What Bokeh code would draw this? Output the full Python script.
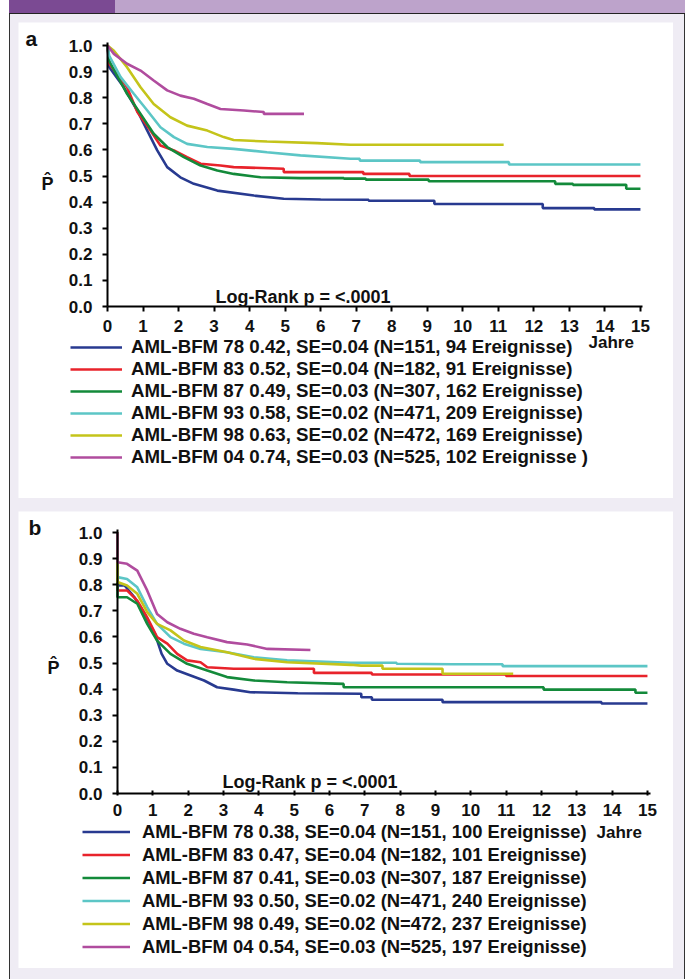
from bokeh.plotting import figure
from bokeh.models import (Range1d, FixedTicker, PrintfTickFormatter, Legend,
                          LegendItem, Label, Div)
from bokeh.layouts import column
from bokeh.embed import file_html
from bokeh.resources import INLINE

# ---------------- data ----------------
COLORS = ["#283A90", "#E8232B", "#138A3A", "#5CC6C6", "#C4C41A", "#B04C9E"]

A_LABELS = [
    "AML-BFM 78 0.42, SE=0.04 (N=151, 94 Ereignisse)",
    "AML-BFM 83 0.52, SE=0.04 (N=182, 91 Ereignisse)",
    "AML-BFM 87 0.49, SE=0.03 (N=307, 162 Ereignisse)",
    "AML-BFM 93 0.58, SE=0.02 (N=471, 209 Ereignisse)",
    "AML-BFM 98 0.63, SE=0.02 (N=472, 169 Ereignisse)",
    "AML-BFM 04 0.74, SE=0.03 (N=525, 102 Ereignisse )",
]
B_LABELS = [
    "AML-BFM 78 0.38, SE=0.04 (N=151, 100 Ereignisse)",
    "AML-BFM 83 0.47, SE=0.04 (N=182, 101 Ereignisse)",
    "AML-BFM 87 0.41, SE=0.03 (N=307, 187 Ereignisse)",
    "AML-BFM 93 0.50, SE=0.02 (N=471, 240 Ereignisse)",
    "AML-BFM 98 0.49, SE=0.02 (N=472, 237 Ereignisse)",
    "AML-BFM 04 0.54, SE=0.03 (N=525, 197 Ereignisse)",
]

X_TICKS = list(range(0, 16))
Y_TICKS = [0.0, 0.1, 0.2, 0.3, 0.4, 0.5, 0.6, 0.7, 0.8, 0.9, 1.0]

# panel a (time in years, survival probability)
A78_T = [0, 0.05, 0.46, 0.84, 1.12, 1.40, 1.68, 2.05, 2.43, 3.09, 4.12, 4.96, 6.0, 7.35, 7.35, 9.2, 9.2, 12.25, 12.25, 13.7, 13.7, 15.0]
A78_S = [1.0, 0.917, 0.84, 0.75, 0.674, 0.598, 0.534, 0.495, 0.47, 0.444, 0.425, 0.413, 0.41, 0.409, 0.405, 0.405, 0.393, 0.393, 0.377, 0.377, 0.372, 0.372]
A83_T = [0, 0.05, 0.55, 0.84, 1.21, 1.49, 1.87, 2.24, 2.62, 3.18, 3.55, 4.96, 4.96, 7.2, 7.2, 8.5, 8.5, 15.0]
A83_S = [1.0, 0.93, 0.84, 0.745, 0.674, 0.617, 0.598, 0.572, 0.547, 0.54, 0.534, 0.528, 0.515, 0.515, 0.508, 0.508, 0.50, 0.50]
A87_T = [0, 0.05, 0.55, 0.93, 1.30, 1.68, 2.15, 2.62, 3.09, 3.55, 4.31, 5.43, 6.65, 6.65, 7.27, 7.27, 9.04, 9.04, 12.6, 12.6, 13.1, 13.1, 14.6, 14.6, 15.0]
A87_S = [1.0, 0.94, 0.815, 0.738, 0.662, 0.611, 0.572, 0.54, 0.521, 0.508, 0.495, 0.492, 0.492, 0.49, 0.49, 0.486, 0.486, 0.48, 0.48, 0.47, 0.47, 0.466, 0.466, 0.451, 0.451]
A93_T = [0, 0.05, 0.37, 0.74, 1.12, 1.49, 1.87, 2.24, 2.81, 3.55, 4.49, 5.43, 6.84, 7.1, 7.1, 8.8, 8.8, 11.3, 11.3, 15.0]
A93_S = [1.0, 0.96, 0.879, 0.815, 0.751, 0.687, 0.649, 0.623, 0.611, 0.604, 0.591, 0.579, 0.566, 0.566, 0.559, 0.559, 0.553, 0.553, 0.544, 0.544]
A98_T = [0, 0.18, 0.55, 0.93, 1.30, 1.77, 2.24, 2.81, 3.27, 3.55, 4.49, 5.9, 6.84, 11.15]
A98_S = [1.0, 0.98, 0.917, 0.84, 0.776, 0.725, 0.693, 0.674, 0.649, 0.638, 0.632, 0.626, 0.62, 0.62]
A04_T = [0, 0.18, 0.55, 0.93, 1.30, 1.68, 2.05, 2.43, 2.81, 3.18, 3.84, 4.40, 4.40, 5.53]
A04_S = [1.0, 0.968, 0.93, 0.904, 0.866, 0.828, 0.808, 0.796, 0.776, 0.757, 0.751, 0.745, 0.738, 0.738]

# panel b
B78_T = [0, 0, 0.2, 0.48, 0.77, 1.06, 1.25, 1.41, 1.69, 2.07, 2.45, 2.82, 3.29, 3.76, 5.1, 6.9, 6.9, 7.2, 7.2, 9.2, 9.2, 13.7, 13.7, 15.0]
B78_S = [1.0, 0.797, 0.797, 0.752, 0.688, 0.612, 0.535, 0.497, 0.471, 0.452, 0.433, 0.407, 0.398, 0.388, 0.384, 0.382, 0.369, 0.369, 0.359, 0.359, 0.35, 0.35, 0.345, 0.345]
B83_T = [0, 0, 0.27, 0.56, 0.84, 1.12, 1.41, 1.69, 1.97, 2.35, 2.54, 3.29, 5.56, 5.56, 7.2, 7.2, 11.0, 11.0, 15.0]
B83_S = [1.0, 0.778, 0.778, 0.739, 0.675, 0.599, 0.574, 0.535, 0.51, 0.503, 0.484, 0.478, 0.478, 0.462, 0.462, 0.456, 0.456, 0.45, 0.45]
B87_T = [0, 0, 0.27, 0.56, 0.84, 1.12, 1.50, 1.97, 2.54, 3.10, 3.86, 4.80, 6.4, 6.4, 12.06, 12.06, 14.66, 14.66, 15.0]
B87_S = [1.0, 0.752, 0.752, 0.727, 0.65, 0.586, 0.535, 0.497, 0.471, 0.446, 0.433, 0.426, 0.42, 0.407, 0.407, 0.398, 0.398, 0.386, 0.386]
B93_T = [0, 0, 0.27, 0.56, 0.84, 1.12, 1.50, 1.88, 2.35, 3.10, 3.86, 4.80, 6.6, 7.9, 7.9, 9.5, 10.9, 10.9, 15.0]
B93_S = [1.0, 0.829, 0.822, 0.79, 0.714, 0.65, 0.599, 0.574, 0.554, 0.541, 0.522, 0.51, 0.501, 0.501, 0.497, 0.495, 0.495, 0.488, 0.488]
B98_T = [0, 0, 0.27, 0.56, 0.84, 1.12, 1.50, 1.88, 2.35, 3.10, 3.86, 4.80, 6.6, 6.9, 7.5, 7.5, 9.2, 9.2, 11.2]
B98_S = [1.0, 0.81, 0.797, 0.765, 0.695, 0.65, 0.625, 0.586, 0.561, 0.541, 0.516, 0.503, 0.493, 0.49, 0.49, 0.478, 0.478, 0.459, 0.459]
B04_T = [0, 0, 0.27, 0.56, 0.84, 1.12, 1.41, 1.78, 2.16, 2.54, 3.10, 3.67, 4.24, 5.46]
B04_S = [1.0, 0.886, 0.88, 0.854, 0.778, 0.688, 0.656, 0.631, 0.612, 0.599, 0.58, 0.571, 0.554, 0.55]

A_CURVES = [(A78_T, A78_S), (A83_T, A83_S), (A87_T, A87_S), (A93_T, A93_S), (A98_T, A98_S), (A04_T, A04_S)]
B_CURVES = [(B78_T, B78_S), (B83_T, B83_S), (B87_T, B87_S), (B93_T, B93_S), (B98_T, B98_S), (B04_T, B04_S)]

FONT = "Liberation Sans"
INK = "#111111"


def make_panel(letter, curves, labels, width, height, xr, yr, xbound, tick_in,
               legend_loc, glyph_w, standoff, row_h, legend_font, letter_pos,
               p_pos, lr_pos, jahre_pos):
    p = figure(width=width, height=height, output_backend="svg",
               toolbar_location=None, x_range=Range1d(*xr),
               y_range=Range1d(*yr),
               min_border_left=0, min_border_right=0,
               min_border_top=0, min_border_bottom=0)
    p.background_fill_color = "white"
    p.border_fill_color = "white"
    p.outline_line_color = None
    p.grid.visible = False
    p.title.text = ""

    items = []
    for (t, s), c, lab in zip(curves, COLORS, labels):
        r = p.line(t, s, line_color=c, line_width=2.6)
        items.append(LegendItem(label=lab, renderers=[r]))

    for ax in (p.xaxis[0], p.yaxis[0]):
        ax.fixed_location = 0
        ax.axis_line_width = 2
        ax.axis_line_color = "black"
        ax.major_tick_line_width = 2
        ax.major_tick_line_color = "black"
        ax.minor_tick_line_color = None
        ax.major_label_text_font = FONT
        ax.major_label_text_font_style = "bold"
        ax.major_label_text_font_size = "17px"
        ax.major_label_text_color = INK
    p.xaxis.bounds = (0, xbound)
    p.yaxis.bounds = (0, 1.0115)
    p.xaxis.ticker = FixedTicker(ticks=X_TICKS)
    p.yaxis.ticker = FixedTicker(ticks=Y_TICKS)
    p.yaxis.formatter = PrintfTickFormatter(format="%.1f")
    p.xaxis.major_tick_out = 5 - tick_in
    p.xaxis.major_tick_in = tick_in
    p.yaxis.major_tick_out = 5
    p.yaxis.major_tick_in = 0
    p.yaxis.major_label_standoff = 10
    p.xaxis.major_label_standoff = 8

    legend = Legend(items=items, location=legend_loc, orientation="vertical",
                    glyph_width=glyph_w, glyph_height=row_h,
                    label_height=row_h, label_standoff=standoff,
                    spacing=0, padding=0, margin=0,
                    border_line_color=None, background_fill_alpha=0,
                    label_text_font=FONT, label_text_font_style="bold",
                    label_text_font_size=legend_font, label_text_color=INK)
    p.add_layout(legend)

    common = dict(x_units="screen", y_units="screen", text_font=FONT,
                  text_font_style="bold", text_color=INK,
                  text_baseline="middle")
    p.add_layout(Label(x=letter_pos[0], y=letter_pos[1], text=letter,
                       text_font_size="21px", text_align="left", **common))
    p.add_layout(Label(x=p_pos[0], y=p_pos[1], text="P\u0302",
                       text_font_size="18px", text_align="center", **common))
    p.add_layout(Label(x=lr_pos[0], y=lr_pos[1], text="Log-Rank p = <.0001",
                       text_font_size="18px", text_align="left", **common))
    p.add_layout(Label(x=jahre_pos[0], y=jahre_pos[1], text="Jahre",
                       text_font_size="17px", text_align="left", **common))
    return p


# panel a: white box 655x476; x=0 at 89px from its left, y=0 at 192px from its bottom
pa = make_panel("a", A_CURVES, A_LABELS, 655, 476,
                (-89 / 35.53, 566 / 35.53), (-192 / 261, 284 / 261), 15.05, 0,
                (52, 30), 52, 9, 20, "18.7px", (7, 460), (29, 315), (197, 202), (570, 156))
# panel b: white box 655x457; x=0 at 99px from its left, y=0 at 175px from its bottom
pb = make_panel("b", B_CURVES, B_LABELS, 655, 457,
                (-99 / 35.33, 556 / 35.33), (-175 / 261, 282 / 261), 15.08, 3,
                (64, 10), 48, 12, 23, "18.4px", (10, 441), (35, 301), (204, 187), (578, 136))
pa.margin = (8, 0, 0, 9)
pb.margin = (13, 0, 0, 9)

topbar = Div(text="", width=676, height=14, margin=0,
             styles={"background": "linear-gradient(90deg, #7B4A93 0px, #7B4A93 106px, #BDA3CB 106px, #BDA3CB 100%)",
                     "box-shadow": "inset 0 -1px 0 #222"})

root = column(topbar, pa, pb, width=676, height=979, margin=(0, 0, 0, 9),
              styles={"background-color": "#EFECF4",
                      "box-shadow": "inset 1px 0 0 #333, inset -1px 0 0 #333"})

open("out.html", "w").write(file_html(root, INLINE))
